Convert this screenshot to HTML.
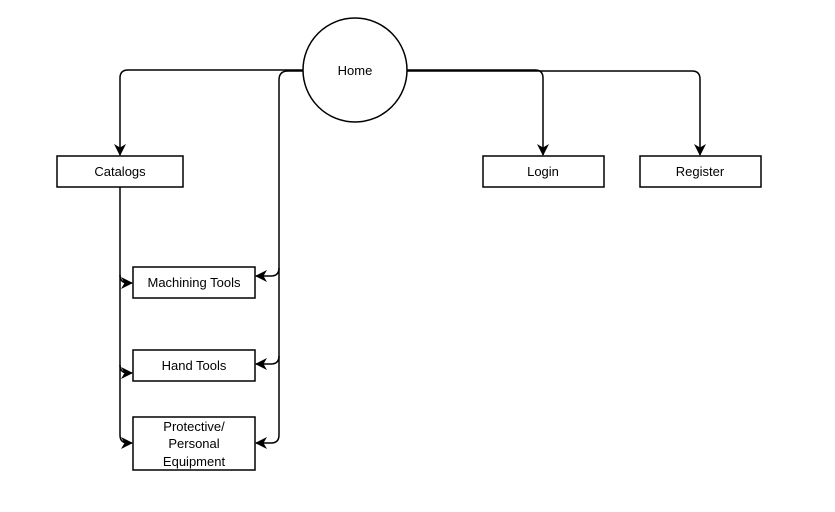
<!DOCTYPE html>
<html><head><style>body{margin:0;background:#fff}svg{display:block}text{font-family:"Liberation Sans",sans-serif;font-size:13px;fill:#000}</style></head>
<body>
<svg width="835" height="512" viewBox="0 0 835 512">
<defs><marker id="a" markerWidth="12" markerHeight="12" refX="11" refY="6" orient="auto" markerUnits="userSpaceOnUse"><path d="M0,0 L12,6 L0,12 L3.5,6 Z" fill="#000"/></marker></defs>
<g fill="none" stroke="#000" stroke-width="1.5">
<path d="M303,70 H128 Q120,70 120,78 V155" marker-end="url(#a)"/>
<path d="M303,71 H288 Q279,71 279,80 V268 Q279,276 271,276 H256" marker-end="url(#a)"/>
<path d="M279,268 V356 Q279,364 271,364 H256" marker-end="url(#a)"/>
<path d="M279,356 V435 Q279,443 271,443 H256" marker-end="url(#a)"/>
<path d="M407,70 H535 Q543,70 543,78 V155" marker-end="url(#a)"/>
<path d="M407,71 H692 Q700,71 700,79 V155" marker-end="url(#a)"/>
<path d="M120,187 V275 Q120,283 128,283 H132" marker-end="url(#a)"/>
<path d="M120,275 V365 Q120,373 128,373 H132" marker-end="url(#a)"/>
<path d="M120,365 V435 Q120,443 128,443 H132" marker-end="url(#a)"/>
<circle cx="355" cy="70" r="52" fill="#fff"/>
<rect x="57" y="156" width="126" height="31" fill="#fff"/>
<rect x="483" y="156" width="121" height="31" fill="#fff"/>
<rect x="640" y="156" width="121" height="31" fill="#fff"/>
<rect x="133" y="267" width="122" height="31" fill="#fff"/>
<rect x="133" y="350" width="122" height="31" fill="#fff"/>
<rect x="133" y="417" width="122" height="53" fill="#fff"/>
</g>
<g text-anchor="middle">
<text x="355" y="75">Home</text>
<text x="120" y="176">Catalogs</text>
<text x="543" y="176">Login</text>
<text x="700" y="176">Register</text>
<text x="194" y="287">Machining Tools</text>
<text x="194" y="370">Hand Tools</text>
<text x="194" y="431">Protective/</text>
<text x="194" y="448">Personal</text>
<text x="194" y="466">Equipment</text>
</g>
</svg>
</body></html>
